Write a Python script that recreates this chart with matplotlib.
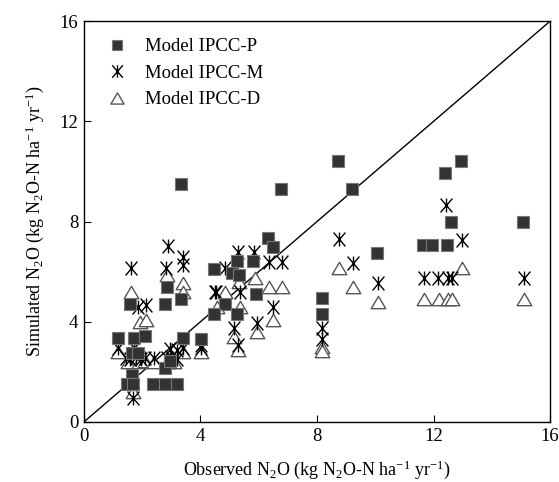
import matplotlib
matplotlib.use("Agg")
import matplotlib.pyplot as plt
from matplotlib.path import Path

plt.rcParams["font.family"] = ["Liberation Serif", "DejaVu Serif"]
plt.rcParams["mathtext.fontset"] = "custom"
plt.rcParams["mathtext.rm"] = "Liberation Serif"
plt.rcParams["mathtext.it"] = "Liberation Serif:italic"

# Model IPCC-P (observed, simulated)
obs_p = [1.16, 1.73, 2.09, 3.41, 4.02, 1.64, 1.85, 2.78, 1.64, 1.47, 1.67, 2.38, 2.78,
         3.18, 1.58, 2.78, 3.35, 2.87, 3.35, 4.47, 5.26, 5.81, 5.10, 5.33, 5.90, 4.84,
         4.47, 5.26, 6.33, 6.48, 6.75, 8.73, 9.21, 8.16, 8.16, 10.05, 11.65, 11.96,
         12.45, 12.60, 12.40, 12.94, 15.06, 2.95]
sim_p = [3.34, 3.34, 3.43, 3.34, 3.31, 2.74, 2.74, 2.14, 1.88, 1.52, 1.52, 1.52, 1.52,
         1.52, 4.71, 4.71, 4.90, 5.40, 9.52, 6.09, 6.44, 6.44, 5.93, 5.85, 5.10, 4.71,
         4.31, 4.31, 7.33, 6.97, 9.29, 10.43, 9.29, 4.95, 4.31, 6.73, 7.06, 7.06,
         7.06, 7.98, 9.95, 10.43, 7.98, 2.45]

# Model IPCC-M
obs_m = [1.69, 1.16, 1.73, 3.41, 4.02, 1.45, 1.60, 1.80, 1.95, 2.10, 2.40, 2.85, 3.00,
         3.20, 2.95, 3.20, 1.86, 2.12, 1.61, 2.82, 2.90, 3.41, 3.41, 4.50, 4.55, 5.36,
         4.84, 5.30, 5.85, 6.35, 6.81, 6.50, 5.15, 5.93, 5.30, 4.02, 8.76, 9.25, 10.10,
         8.16, 8.16, 11.67, 12.17, 12.51, 12.62, 15.10, 12.42, 12.99]
sim_m = [0.95, 2.94, 2.94, 2.94, 2.94, 2.55, 2.50, 2.60, 2.50, 2.55, 2.54, 2.54, 2.60,
         2.50, 2.90, 2.87, 4.60, 4.67, 6.13, 6.13, 7.02, 6.60, 6.27, 5.20, 5.20, 5.20,
         6.13, 6.80, 6.80, 6.40, 6.40, 4.60, 3.74, 3.94, 3.07, 3.07, 7.29, 6.36, 5.56,
         3.74, 3.30, 5.73, 5.73, 5.73, 5.73, 5.73, 8.66, 7.26]

# Model IPCC-D
obs_d = [1.69, 1.16, 1.73, 3.41, 4.02, 1.50, 1.90, 2.10, 2.40, 2.90, 3.10, 1.92, 2.15,
         1.61, 2.84, 3.39, 3.39, 5.87, 6.35, 6.81, 4.84, 5.33, 4.56, 5.36, 6.50, 5.15,
         5.93, 5.30, 8.77, 9.25, 10.10, 11.69, 12.20, 12.51, 12.64, 15.10, 12.99, 8.16,
         8.16]
sim_d = [1.20, 2.80, 2.80, 2.80, 2.80, 2.40, 2.40, 2.45, 2.40, 2.40, 2.40, 4.00, 4.07,
         5.20, 5.87, 5.53, 5.20, 5.73, 5.40, 5.40, 5.20, 5.60, 4.60, 4.60, 4.07, 3.40,
         3.60, 2.87, 6.13, 5.40, 4.80, 4.90, 4.90, 4.90, 4.90, 4.90, 6.13, 3.00, 2.85]

# asterisk: vertical bar plus an X
star = Path([(0, -1), (0, 1), (-0.85, -1), (0.85, 1), (-0.85, 1), (0.85, -1)],
            [Path.MOVETO, Path.LINETO, Path.MOVETO, Path.LINETO, Path.MOVETO, Path.LINETO])
tri = Path([(0, 0.85), (-1, -0.85), (1, -0.85), (0, 0.85)],
           [Path.MOVETO, Path.LINETO, Path.LINETO, Path.CLOSEPOLY])

fig = plt.figure(figsize=(5.59, 4.82), dpi=100)
ax = fig.add_axes([0.150, 0.1245, 0.834, 0.8315])

ax.plot([0, 16], [0, 16], color="black", lw=1, zorder=1)
ax.plot(obs_d, sim_d, ls="none", marker=tri, ms=10.5, mfc="white", mec="#555555",
        mew=1, label="Model IPCC-D", zorder=2)
ax.plot(obs_m, sim_m, ls="none", marker=star, ms=10, mec="black", mew=1,
        label="Model IPCC-M", zorder=3)
ax.plot(obs_p, sim_p, ls="none", marker="s", ms=8, mfc="#333333", mec="#777777",
        mew=0.8, label="Model IPCC-P", zorder=4)

ax.set_xlim(0, 16)
ax.set_ylim(0, 16)
ax.set_xticks([0, 4, 8, 12, 16])
ax.set_yticks([0, 4, 8, 12, 16])
ax.tick_params(direction="in", length=5, labelsize=13.5, pad=4)
for s in ax.spines.values():
    s.set_linewidth(1)

ax.set_xlabel(r"Observed N$_2$O (kg N$_2$O-N ha$^{\mathregular{-1}}$ yr$^{\mathregular{-1}}$)",
              fontsize=13, labelpad=10)
ax.set_ylabel(r"Simulated N$_2$O (kg N$_2$O-N ha$^{\mathregular{-1}}$ yr$^{\mathregular{-1}}$)",
              fontsize=13, labelpad=10)

h, l = ax.get_legend_handles_labels()
leg = ax.legend(h[::-1], l[::-1], loc="upper left", bbox_to_anchor=(0.01, 1.0),
                frameon=False, fontsize=13.5, handletextpad=0.9, labelspacing=0.5,
                markerscale=0.9, handlelength=1.2)

fig.savefig("out.png", dpi=100)
